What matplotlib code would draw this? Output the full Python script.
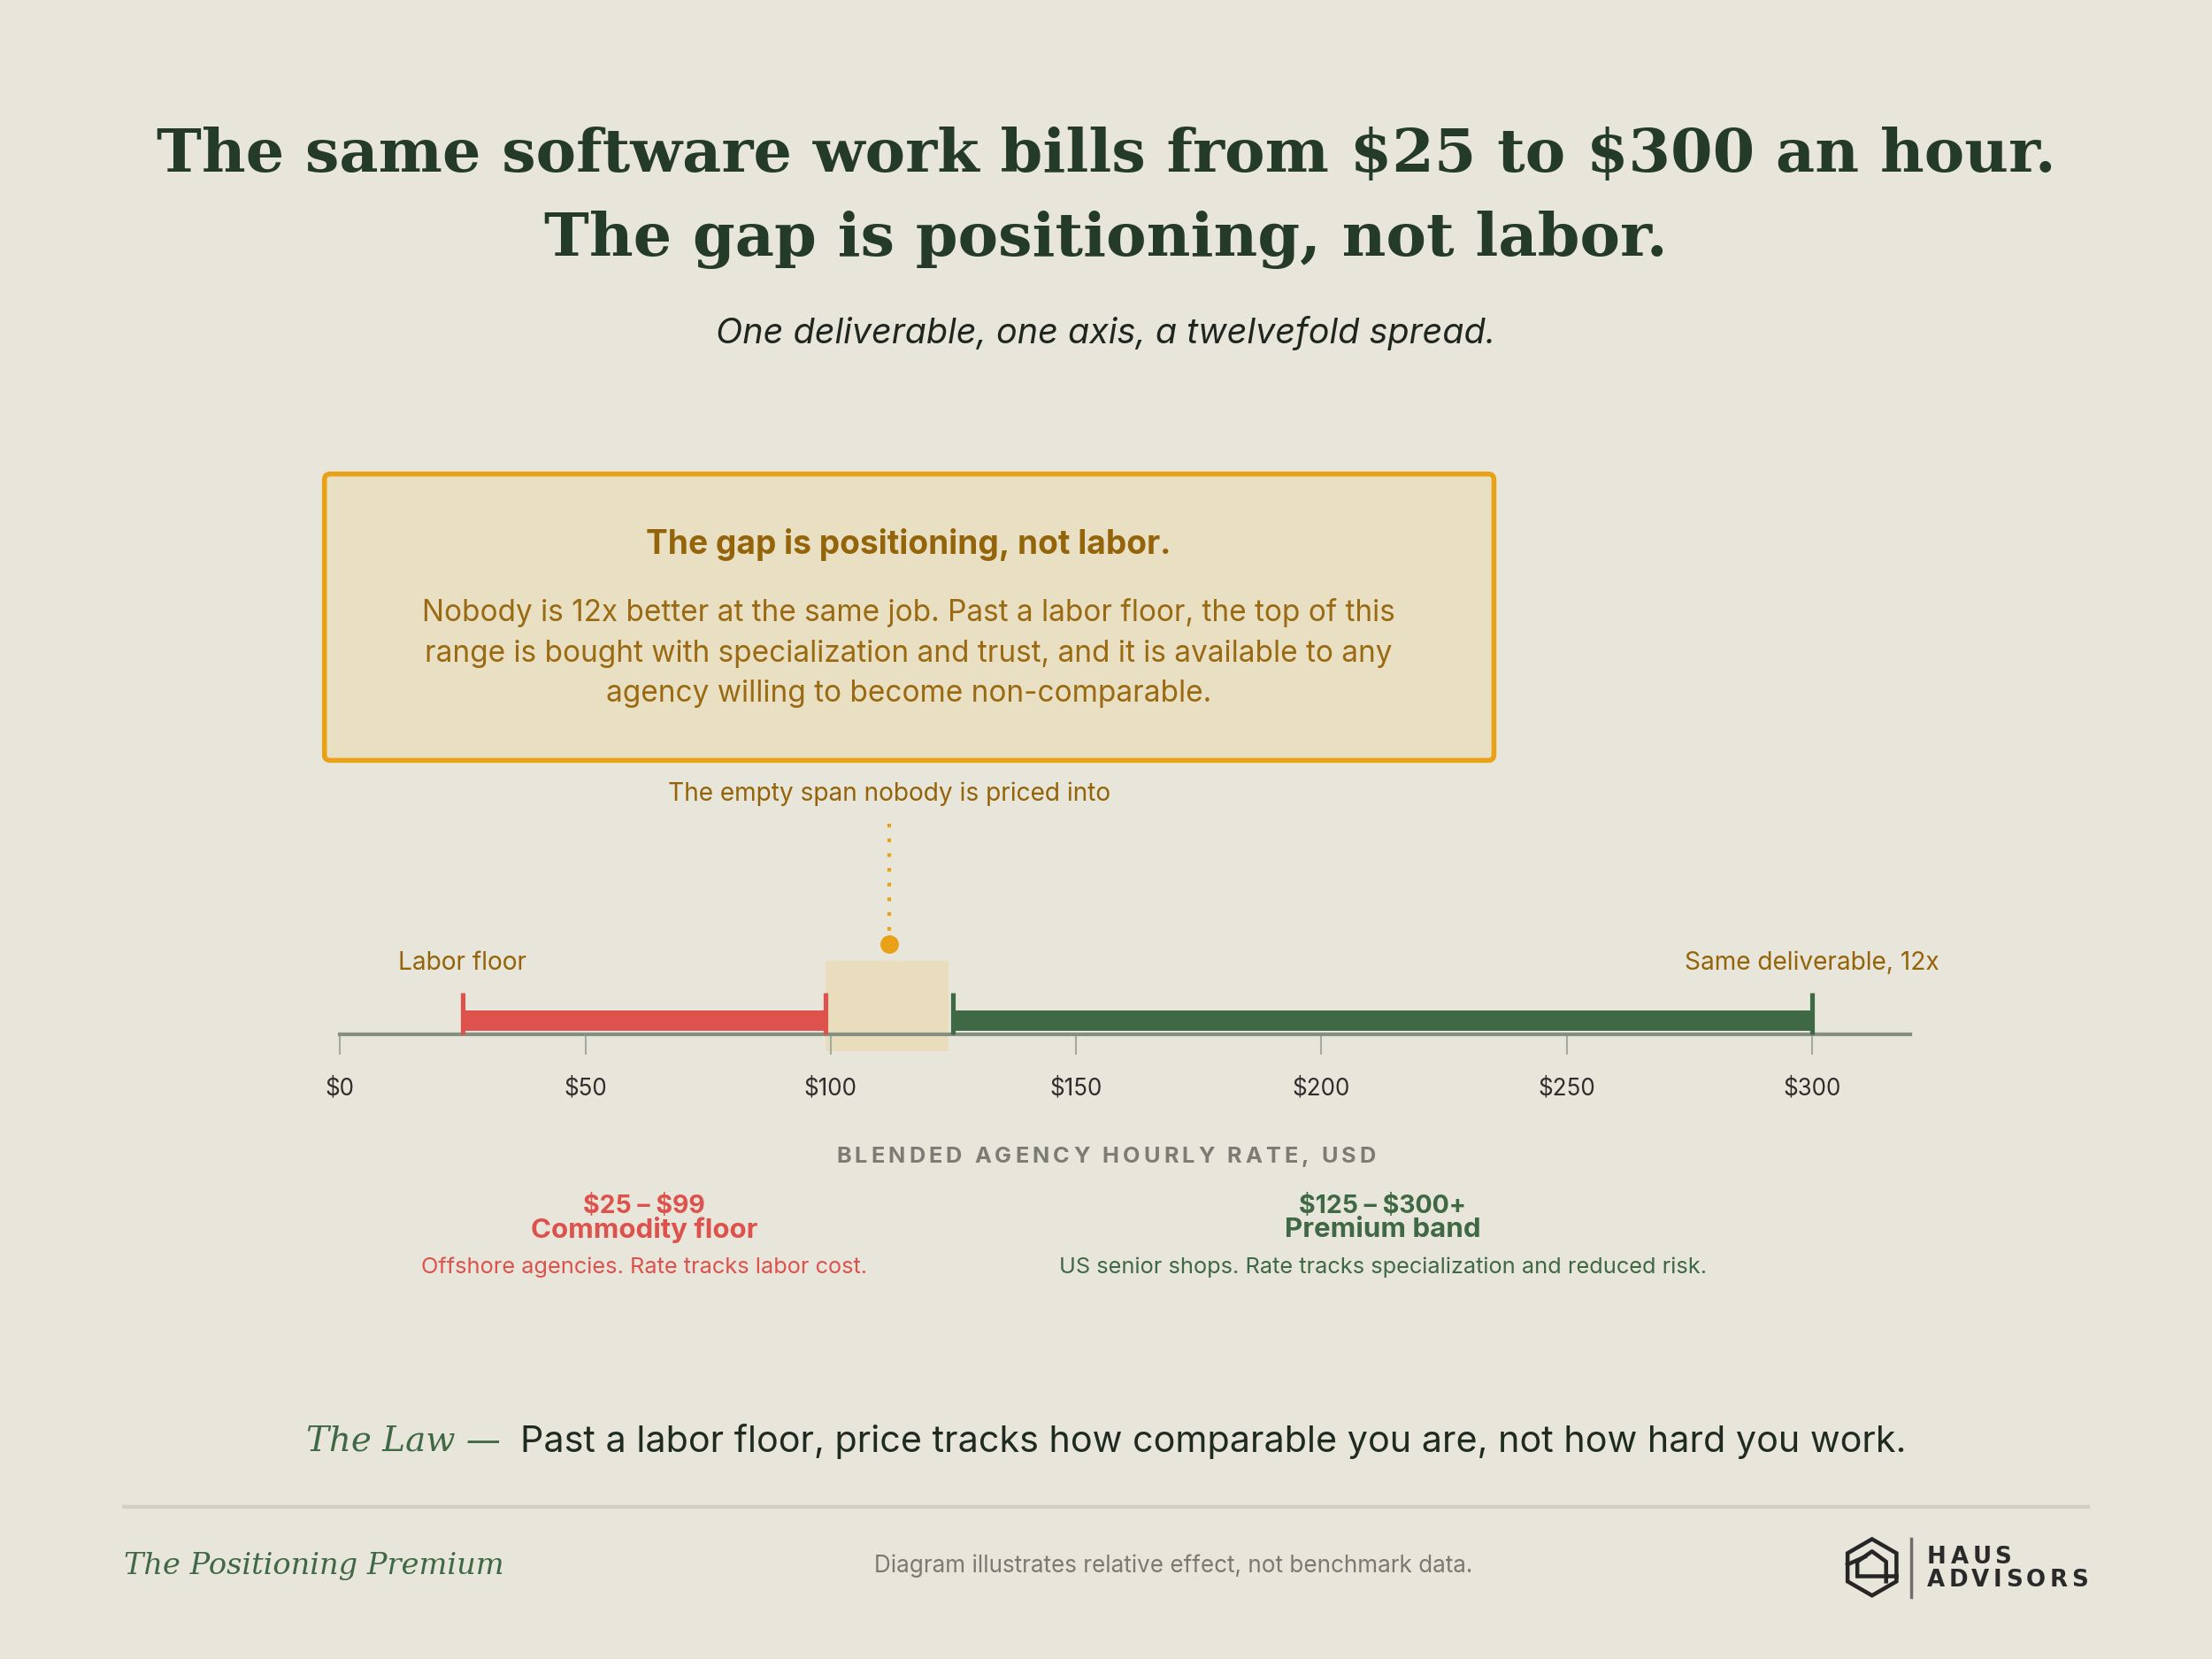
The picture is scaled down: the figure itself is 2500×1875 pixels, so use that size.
import matplotlib
matplotlib.use("Agg")
import matplotlib.pyplot as plt
from matplotlib.patches import FancyBboxPatch, Polygon
from matplotlib.font_manager import FontProperties
from matplotlib.textpath import TextToPath

plt.rcParams["text.parse_math"] = False

# data
ticks = [0, 50, 100, 150, 200, 250, 300]
tick_labels = ["$0", "$50", "$100", "$150", "$200", "$250", "$300"]
commodity = (25, 99)
premium = (125, 300)
gap = (99, 124)
gap_marker = 112
x_max = 320

BG = "#E8E6DA"
DARK = "#253B29"
RED = "#DD524C"
GREEN = "#3F6844"
TAN = "#E9DDBD"
ORANGE = "#E9A118"
BROWN = "#93640A"
AXIS = "#859082"

W, H = 1568, 1176          # layout grid (pixels of a 10 x 7.5 in canvas)
PX = H / (7.5 * 72)         # grid px per point
SANS = "Inter"
SERIF = "DejaVu Serif"

fig = plt.figure(figsize=(10, 7.5), dpi=250, facecolor=BG)
ov = fig.add_axes([0, 0, 1, 1])
ov.set_xlim(0, W)
ov.set_ylim(H, 0)
ov.axis("off")

t2p = TextToPath()


def tracked(ax, x, y, s, size, track, ha="center", **kw):
    fp = FontProperties(family=kw.get("family", SANS), weight=kw.get("weight", "normal"), size=size)
    ref = t2p.get_text_width_height_descent("I", fp, ismath=False)[0]

    def adv(sub):
        return (t2p.get_text_width_height_descent(sub + "I", fp, ismath=False)[0] - ref) * PX

    total = adv(s) + track * (len(s) - 1)
    x0 = x - total / 2 if ha == "center" else x
    for i, ch in enumerate(s):
        ax.text(x0 + adv(s[:i]) + i * track, y, ch, fontproperties=fp,
                color=kw.get("color", "k"), ha="left", va="center")


# title block
ov.text(W / 2, 110, "The same software work bills from $25 to $300 an hour.", ha="center", va="center",
        family=SERIF, weight="bold", size=19.7, color=DARK)
ov.text(W / 2, 170, "The gap is positioning, not labor.", ha="center", va="center",
        family=SERIF, weight="bold", size=19.7, color=DARK)
ov.text(W / 2, 236, "One deliverable, one axis, a twelvefold spread.", ha="center", va="center",
        family=SANS, style="italic", size=11.4, color="#1E261F")

# callout
box = FancyBboxPatch((230, 336), 829, 203, boxstyle="round,pad=0,rounding_size=4",
                     facecolor="#E9DFC2", edgecolor=ORANGE, linewidth=1.6)
ov.add_patch(box)
ov.text(644, 386, "The gap is positioning, not labor.", ha="center", va="center",
        family=SANS, weight="bold", size=10.7, color=BROWN)
ov.text(644, 463, "Nobody is 12x better at the same job. Past a labor floor, the top of this\n"
        "range is bought with specialization and trust, and it is available to any\n"
        "agency willing to become non-comparable.", ha="center", va="center",
        multialignment="center", linespacing=1.55, family=SANS, size=9.6, color="#9A6A12")

# chart
top, bot = 540, 800
ax = fig.add_axes([241 / W, 1 - bot / H, (1354 - 241) / W, (bot - top) / H])
ax.set_facecolor("none")
ax.set_xlim(0, x_max)
ax.set_ylim(bot, top)
for s in ["top", "left", "right"]:
    ax.spines[s].set_visible(False)
ax.spines["bottom"].set_position(("data", 733))
ax.spines["bottom"].set_color(AXIS)
ax.spines["bottom"].set_linewidth(1.2)
ax.set_yticks([])
ax.set_xticks(ticks)
ax.set_xticklabels(tick_labels)
ax.tick_params(axis="x", length=6.5, width=0.6, color="#A3AA9F", pad=7.5, labelsize=7.5,
               labelcolor="#2E2E2E")
for lab in ax.get_xticklabels():
    lab.set_family(SANS)

ax.barh(713, gap[1] - gap[0], left=gap[0], height=64, color=TAN, zorder=1)
ax.barh(723.5, commodity[1] - commodity[0], left=commodity[0], height=15, color=RED, zorder=2)
ax.barh(723.5, premium[1] - premium[0], left=premium[0], height=15, color=GREEN, zorder=2)
ax.vlines(list(commodity), 704, 733, color=RED, lw=1.5, zorder=3)
ax.vlines(list(premium), 704, 733, color=GREEN, lw=1.5, zorder=3)

ax.vlines(gap_marker, 584, 660, color=ORANGE, lw=1.2, linestyles=(0, (1, 3)), zorder=3)
ax.plot([gap_marker], [669], "o", color=ORANGE, ms=5, zorder=4)
ax.text(gap_marker, 563, "The empty span nobody is priced into", ha="center", va="center",
        family=SANS, size=8.1, color=BROWN)
ax.text(commodity[0], 683, "Labor floor", ha="center", va="center", family=SANS, size=8.1, color=BROWN)
ax.text(premium[1], 683, "Same deliverable, 12x", ha="center", va="center", family=SANS, size=8.1,
        color=BROWN, clip_on=False)

for (lo, hi), rng, name, desc, col in [
        (commodity, "$25 \u2013 $99", "Commodity floor", "Offshore agencies. Rate tracks labor cost.", RED),
        (premium, "$125 \u2013 $300+", "Premium band", "US senior shops. Rate tracks specialization and reduced risk.", GREEN)]:
    cx = (lo + hi) / 2
    ax.text(cx, 855, rng, ha="center", va="center", family=SANS, weight="bold", size=8.2, color=col, clip_on=False)
    ax.text(cx, 872, name, ha="center", va="center", family=SANS, weight="bold", size=9.0, color=col, clip_on=False)
    ax.text(cx, 898, desc, ha="center", va="center", family=SANS, size=7.3, color=col, clip_on=False)

tracked(ov, W / 2, 820, "BLENDED AGENCY HOURLY RATE, USD", 7.3, 2.55, weight="bold", color="#7C7C74")

# the law
t1 = ov.text(217, 1022, "The Law \u2014", ha="left", va="center", family=SERIF, style="italic",
             size=11.2, color=GREEN)
t2 = ov.text(366, 1022, "Past a labor floor, price tracks how comparable you are, not how hard you work.",
             ha="left", va="center", family=SANS, size=11.9, color="#1F2B21")
fig.canvas.draw()
r = fig.canvas.get_renderer()
inv = ov.transData.inverted()
b1 = t1.get_window_extent(r).transformed(inv)
b2 = t2.get_window_extent(r).transformed(inv)
w1 = abs(b1.x1 - b1.x0)
w2 = abs(b2.x1 - b2.x0)
start = W / 2 - (w1 + 14 + w2) / 2
t1.set_x(start)
t2.set_x(start + w1 + 14)

# footer
ov.plot([88, 1480], [1068, 1068], color="#D2CFC3", lw=1.2)
ov.text(88, 1110, "The Positioning Premium", ha="left", va="center", family=SERIF, style="italic",
        size=9.7, color=GREEN)
ov.text(832, 1110, "Diagram illustrates relative effect, not benchmark data.", ha="center", va="center",
        family=SANS, size=7.5, color="#7A7A72")

# logo
cx, cy, rr = 1327, 1111, 20
hexagon = [(cx, cy - rr), (cx + 0.866 * rr, cy - rr / 2), (cx + 0.866 * rr, cy + rr / 2),
           (cx, cy + rr), (cx - 0.866 * rr, cy + rr / 2), (cx - 0.866 * rr, cy - rr / 2)]
ov.add_patch(Polygon(hexagon, closed=True, fill=False, edgecolor="#262626", lw=1.3))
house = [(1316.6, 1117), (1316.6, 1107), (1327, 1099.7), (1337, 1107), (1337, 1121)]
ov.plot([p[0] for p in house], [p[1] for p in house], color="#262626", lw=1.3)
ov.plot([1316.6, cx + 0.866 * rr], [1117, 1117], color="#262626", lw=1.3)
ov.plot([cx - 0.866 * rr, 1322], [1109, 1103.5], color="#262626", lw=1.3)
ov.plot([1355, 1355], [1091, 1132], color="#6E6E6E", lw=1)
tracked(ov, 1366, 1104, "HAUS", 7.5, 3.0, ha="left", family="DejaVu Sans", weight="bold", color="#2A2A2A")
tracked(ov, 1366, 1120, "ADVISORS", 7.5, 2.7, ha="left", family="DejaVu Sans", weight="bold", color="#2A2A2A")

fig.savefig("out.png", dpi=250, facecolor=BG)
